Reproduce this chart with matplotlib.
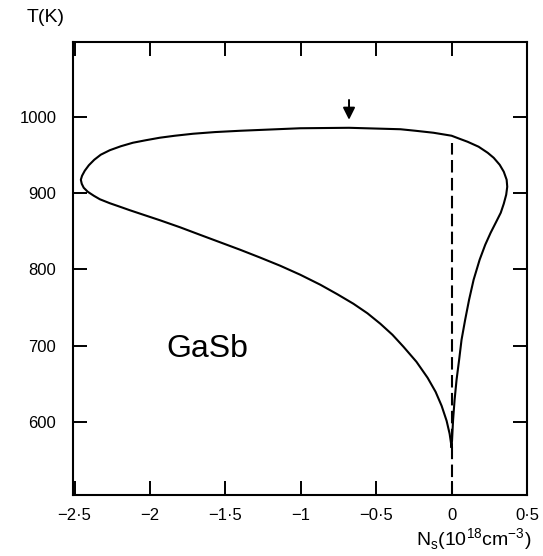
import matplotlib
matplotlib.use("Agg")
import matplotlib.pyplot as plt

plt.rcParams['font.family'] = ['Liberation Sans', 'DejaVu Sans']

# Carrier concentration boundary N_s (1e18 cm^-3) versus temperature T (K) for GaSb,
# traced as one closed contour: up the right branch from the cusp near N_s = 0,
# across the top, round the nose at N_s ~ -2.46 and back down the lower branch.
ns_curve = [0.000, 0.003, 0.010, 0.020, 0.033, 0.050, 0.066, 0.090, 0.116, 0.146,
            0.186, 0.223, 0.259, 0.296, 0.326, 0.346, 0.362, 0.369, 0.365, 0.346,
            0.319, 0.279, 0.239, 0.179, 0.106, 0.053, 0.000, -0.120, -0.239, -0.339,
            -0.680, -1.003, -1.402, -1.568, -1.714, -1.834, -1.934, -2.027, -2.113, -2.193,
            -2.266, -2.326, -2.369, -2.405, -2.432, -2.450, -2.458, -2.452, -2.439, -2.412,
            -2.372, -2.332, -2.266, -2.199, -2.133, -2.033, -1.934, -1.801, -1.668, -1.535,
            -1.402, -1.269, -1.136, -1.003, -0.870, -0.757, -0.651, -0.558, -0.472, -0.392,
            -0.319, -0.233, -0.159, -0.106, -0.066, -0.033, -0.013, 0.000]
t_curve = [567, 576.4, 602.6, 628.9, 655.1, 681.3, 707.5, 733.8, 760.0, 786.2,
           812.5, 832.1, 847.9, 862.3, 874.1, 885.9, 897.7, 908.2, 917.4, 927.9,
           937.0, 946.2, 952.8, 960.7, 967.2, 971.1, 975.1, 979.0, 981.6, 983.6,
           985.5, 984.9, 981.6, 979.9, 977.7, 975.1, 972.5, 969.2, 965.9, 961.3,
           956.1, 950.2, 943.6, 936.4, 929.2, 922.6, 917.4, 912.1, 906.9, 901.6,
           896.4, 891.8, 886.6, 882.0, 877.4, 870.8, 864.3, 855.1, 845.2, 835.4,
           825.6, 815.3, 804.6, 792.8, 779.7, 767.2, 754.8, 742.3, 728.5, 714.1,
           698.4, 678.7, 657.7, 639.3, 620.9, 601.3, 584.3, 567]

# Vertical reference line at N_s = 0
ns_zero = [0.0, 0.0]
t_zero = [504, 966]

# Arrow marking the temperature maximum of the contour
arrow_ns = -0.68
arrow_t_tail = 1022
arrow_t_tip = 996

x_ticks = [-2.5, -2.0, -1.5, -1.0, -0.5, 0.0, 0.5]
x_tick_labels = ['\u22122\u00b75', '\u22122', '\u22121\u00b75', '\u22121', '\u22120\u00b75', '0', '0\u00b75']
y_ticks = [600, 700, 800, 900, 1000]
y_tick_labels = ['600', '700', '800', '900', '1000']

fig = plt.figure(figsize=(5.43, 5.56), dpi=100)
ax = fig.add_axes([73 / 543, 61 / 556, 454 / 543, 453 / 556])

ax.plot(ns_curve, t_curve, color='black', lw=1.5, solid_joinstyle='round')
ax.plot(ns_zero, t_zero, color='black', lw=1.5, linestyle=(0, (6, 2.6)))

ax.annotate('', xy=(arrow_ns, arrow_t_tip), xytext=(arrow_ns, arrow_t_tail),
            arrowprops=dict(arrowstyle='-|>', lw=1.4, color='black',
                            mutation_scale=18, shrinkA=0, shrinkB=0))

ax.text(-1.62, 696, 'GaSb', fontsize=23, ha='center', va='center')

ax.set_xlim(-2.51, 0.5)
ax.set_ylim(504, 1098)
ax.set_xticks(x_ticks)
ax.set_xticklabels(x_tick_labels)
ax.set_yticks(y_ticks)
ax.set_yticklabels(y_tick_labels)

ax.tick_params(axis='both', which='major', direction='in', length=10, width=1.4,
               top=True, right=True, labelsize=12)
ax.tick_params(axis='x', pad=9)
ax.tick_params(axis='y', pad=12)
for s in ax.spines.values():
    s.set_linewidth(1.5)

fig.text(46 / 543, 1 - 17 / 556, 'T(K)', fontsize=14, ha='center', va='center')
fig.text(474 / 543, 1 - 540 / 556,
         'N$_\\mathregular{s}$(10$^\\mathregular{18}$cm$^\\mathregular{-3}$)',
         fontsize=14, ha='center', va='center')

fig.savefig('out.png', dpi=100)
